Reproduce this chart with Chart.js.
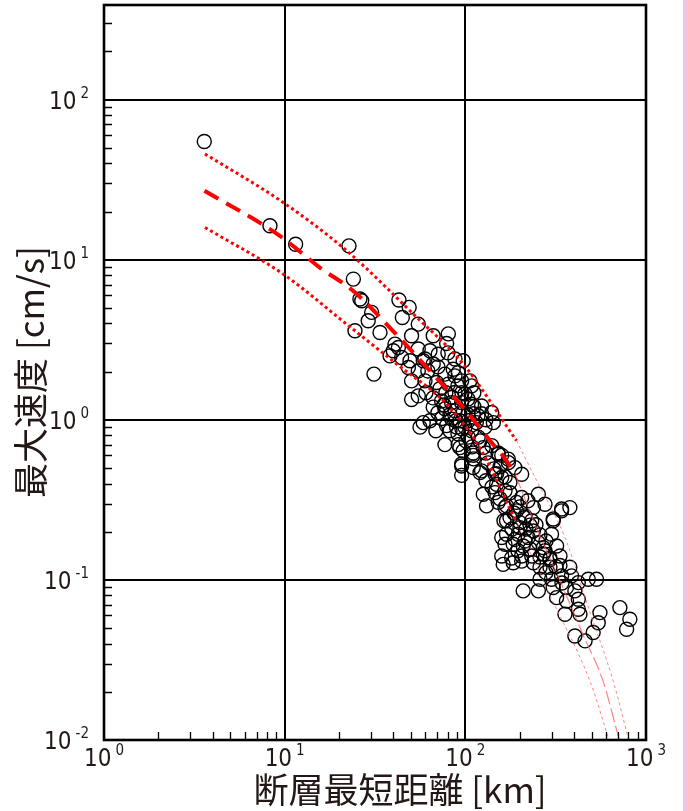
<!DOCTYPE html>
<html>
<head>
<meta charset="utf-8">
<script src="https://cdn.jsdelivr.net/npm/chart.js@4.4.1/dist/chart.umd.min.js"></script>
<style>
  html, body { margin: 0; padding: 0; background: #fff; }
  #wrap { position: relative; width: 688px; height: 811px; }
</style>
</head>
<body>
<div id="wrap"><canvas id="pgvChart"></canvas></div>
<script>
// 観測点: 断層最短距離 [km] と 最大速度 [cm/s]
const distances = [
  3.59, 8.29, 11.5, 22.7, 24.0, 26.1, 26.7, 30.3, 29.0, 33.7, 24.5, 31.2, 42.9, 48.9, 44.8,
  40.8, 39.9, 44.4, 38.3, 42.6, 95.4, 173, 149, 166, 59.8, 48.4, 54.9, 78.8,
  50.4, 66.4, 80.5, 54.9, 63.7, 70.8, 49.4, 58.5, 66.4, 87.6, 97.3, 85.7, 91.3, 77.1, 54.9,
  50.4, 59.8, 69.3, 80.5, 95.4, 108.3, 87.6, 99.5, 50.4, 54.9, 66.4, 73.9, 84.0, 95.4, 108.3,
  123, 66.4, 77.1, 87.6, 97.3, 110.6, 123, 140, 73.9, 84.0, 93.3, 103.8, 115, 78.7, 89.5,
  99.5, 56.1, 58.5, 108.3, 128.5, 142.9, 103.8, 118, 77.1, 91.3, 125.7, 140, 97.3, 110.6,
  152, 159, 95.4, 111, 123, 93.3,
  72.3, 78.0, 84.3, 91.0, 95.7, 103.3, 111.5, 76.1, 82.2, 88.6, 95.7, 103.3, 111.5, 117.5, 130,
  91.0, 100.7, 108.8, 120.5, 130, 70.5, 63.7, 68.7, 82.2, 106, 87.6, 70.5, 60.5, 62.0, 80.1,
  110.6, 95.4, 110.6, 120.5, 152, 172.9, 188, 205, 146, 159, 149, 176.6, 125.7, 146, 165.8,
  192, 152, 169, 131, 205, 253.6, 276, 238, 176.6, 213.7, 228, 200.5, 238, 306.6, 341, 188,
  213.7, 159, 165.8, 253.6, 276, 233, 294, 180.5, 205, 159,
  133.4, 144.1, 155.5, 130, 140.5, 155.5, 176.6, 185.8, 200.5, 222, 163.6, 181.2, 216.4, 246,
  259, 279.5, 228, 195.5, 259, 317, 279.5, 342.7, 404,
  165.8, 192, 213.7, 169, 200.5, 233, 169, 196, 223, 184, 209, 300, 270, 320, 341, 379, 306.6,
  162, 184, 205, 238, 270, 294, 334, 259, 294, 334, 379, 259, 300, 341, 387, 422, 479, 532,
  209, 253.6, 306.6, 363, 320, 363, 422, 356, 431, 556, 717,
  422, 544, 510, 404, 460, 814, 781
];
const velocities = [
  54.8, 16.3, 12.5, 12.2, 7.57, 5.68, 5.54, 4.69, 4.16, 3.51, 3.6, 1.93, 5.6, 5.04, 4.36,
  2.97, 2.7, 2.45, 2.51, 2.83, 0.45, 0.54, 0.46, 0.44, 2.40, 2.12, 3.96, 3.0,
  3.35, 3.35, 3.44, 2.77, 2.70, 2.57, 2.34, 2.34, 2.23, 2.40, 2.34, 2.07, 1.97, 1.93, 2.02,
  1.75, 1.75, 1.71, 1.67, 1.75, 1.63, 1.48, 1.45, 1.34, 1.41, 1.37, 1.31, 1.28, 1.28, 1.25,
  1.22, 1.20, 1.17, 1.14, 1.11, 1.09, 1.09, 1.11, 1.02, 1.01, 0.986, 0.986, 0.96, 0.92, 0.90,
  0.90, 0.90, 0.96, 0.854, 0.90, 0.96, 0.78, 0.78, 0.70, 0.70, 0.67, 0.69, 0.64, 0.62,
  0.62, 0.60, 0.53, 0.57, 0.48, 0.67,
  1.564, 1.477, 1.387, 1.63, 1.477, 1.348, 1.477, 1.237, 1.076, 0.986, 0.879, 1.076, 1.208, 1.06, 1.0,
  0.818, 0.739, 0.678, 0.739, 0.621, 1.107, 0.986, 0.854, 0.854, 1.75, 1.88, 2.14, 1.477, 2.02, 2.62,
  0.60, 0.515, 0.503, 0.468, 0.61, 0.568, 0.503, 0.457, 0.457, 0.436, 0.396, 0.406, 0.343, 0.351, 0.36,
  0.305, 0.305, 0.29, 0.29, 0.327, 0.343, 0.297, 0.283, 0.245, 0.245, 0.220, 0.212, 0.202, 0.240, 0.277, 0.179,
  0.175, 0.184, 0.167, 0.171, 0.152, 0.141, 0.134, 0.137, 0.141, 0.141,
  0.538, 0.494, 0.508, 0.416, 0.381, 0.321, 0.35, 0.262, 0.286, 0.312, 0.234, 0.208, 0.208, 0.221,
  0.191, 0.175, 0.156, 0.152, 0.139, 0.121, 0.111, 0.0957, 0.0854,
  0.283, 0.27, 0.251, 0.234, 0.228, 0.234, 0.193, 0.193, 0.184, 0.167, 0.163, 0.193, 0.159, 0.163, 0.27, 0.283, 0.234,
  0.125, 0.128, 0.131, 0.128, 0.145, 0.137, 0.141, 0.120, 0.120, 0.123, 0.120, 0.101, 0.101, 0.106, 0.106, 0.0962, 0.101, 0.101,
  0.0854, 0.0854, 0.0896, 0.0896, 0.0775, 0.0739, 0.0757, 0.061, 0.061, 0.0625, 0.0671,
  0.0656, 0.054, 0.0469, 0.0446, 0.0416, 0.0568, 0.0492
];

// 距離減衰式 (平均) と ±1σ
const meanDist = [3.6, 9.4, 15.7, 23.9, 39.7, 63, 100, 140, 166, 190];
const meanVel = [27.0, 14.1, 8.9, 6.4, 3.6, 2.05, 1.15, 0.72, 0.57, 0.45];
const meanTailDist = [190, 250, 334, 450, 578, 711];
const meanTailVel = [0.45, 0.206, 0.099, 0.045, 0.0234, 0.01];
const upperDist = [3.62, 9.8, 22.0, 51.5, 97.3, 192];
const upperVel = [45.8, 22.8, 11.4, 4.58, 2.23, 0.74];
const upperTailDist = [192, 253, 356, 489, 658, 804];
const upperTailVel = [0.74, 0.40, 0.184, 0.063, 0.0234, 0.0099];
const lowerDist = [3.62, 9.8, 22.0, 41.7, 78.8, 120, 188];
const lowerVel = [15.9, 8.14, 3.96, 2.23, 1.25, 0.67, 0.24];
const lowerTailDist = [188, 294, 489, 626];
const lowerTailVel = [0.24, 0.08, 0.0234, 0.0099];

const xTicks = [1, 10, 100, 1000];
const xTickExp = ['0', '1', '2', '3'];
const yTicks = [0.01, 0.1, 1, 10, 100];
const yTickExp = ['-2', '-1', '0', '1', '2'];

const xTitle = '断層最短距離 [km]';
const yTitle = '最大速度 [cm/s]';

const pts = (xs, ys) => xs.map((v, i) => ({ x: v, y: ys[i] }));

const RED = '#ff0000';
const PINK = 'rgba(255, 90, 90, 0.75)';
const TEXT = '#231815';
const NUM_FONT = '"Liberation Sans Narrow", "DejaVu Sans Condensed", sans-serif';

function lineSet(xs, ys, color, width, dash) {
  return {
    data: pts(xs, ys),
    showLine: true,
    borderColor: color,
    borderWidth: width,
    borderDash: dash,
    pointRadius: 0,
    fill: false,
    cubicInterpolationMode: 'monotone'
  };
}

// 10 の累乗ラベル
function drawPow(ctx, exp, x, y, align) {
  ctx.font = '24px ' + NUM_FONT;
  const bw = ctx.measureText('10').width;
  ctx.font = '15px ' + NUM_FONT;
  const ew = ctx.measureText(exp).width;
  const gap = 4;
  let left;
  if (align === 'right') left = x - bw - gap - ew;
  else left = x - (bw + gap + ew) / 2;
  ctx.textAlign = 'left';
  ctx.textBaseline = 'alphabetic';
  ctx.font = '24px ' + NUM_FONT;
  ctx.fillText('10', left, y + 9);
  ctx.font = '15px ' + NUM_FONT;
  ctx.fillText(exp, left + bw + gap, y - 2);
}

const decor = {
  id: 'decor',
  afterDraw(chart) {
    const { ctx, chartArea: a, scales: { x, y } } = chart;
    ctx.save();
    // 副目盛 (内向き)
    ctx.strokeStyle = '#000';
    ctx.lineWidth = 1.3;
    ctx.beginPath();
    for (let d = 1; d < 1000; d *= 10) {
      for (let m = 2; m <= 9; m++) {
        const px = Math.round(x.getPixelForValue(m * d)) + 0.5;
        ctx.moveTo(px, a.bottom);
        ctx.lineTo(px, a.bottom - 8);
      }
    }
    for (let d = 0.01; d < 500; d *= 10) {
      for (let m = 2; m <= 9; m++) {
        const v = m * d;
        if (v > y.max) break;
        const py = Math.round(y.getPixelForValue(v)) + 0.5;
        ctx.moveTo(a.left, py);
        ctx.lineTo(a.left + 8, py);
      }
    }
    ctx.stroke();
    // 枠
    ctx.lineWidth = 2.6;
    ctx.strokeRect(a.left, a.top, a.right - a.left, a.bottom - a.top);

    // 目盛ラベル
    ctx.fillStyle = TEXT;
    xTicks.forEach((v, i) => drawPow(ctx, xTickExp[i], x.getPixelForValue(v), a.bottom + 17, 'center'));
    yTicks.forEach((v, i) => drawPow(ctx, yTickExp[i], a.left - 15, y.getPixelForValue(v), 'right'));

    // 軸タイトル
    ctx.font = '35px "Noto Sans CJK JP", sans-serif';
    ctx.textAlign = 'center';
    ctx.textBaseline = 'middle';
    ctx.fillText(xTitle, 400, 790);
    ctx.translate(31, 372);
    ctx.rotate(-Math.PI / 2);
    ctx.fillText(yTitle, 0, 0);
    ctx.restore();

    // 右端の色帯
    ctx.save();
    ctx.fillStyle = '#f2c3e0';
    ctx.fillRect(683, 0, 5, chart.height);
    ctx.restore();
  }
};

const ctx = document.getElementById('pgvChart').getContext('2d');
new Chart(ctx, {
  type: 'scatter',
  data: {
    datasets: [
      lineSet(meanDist, meanVel, RED, 4, [16, 9]),
      lineSet(upperDist, upperVel, RED, 3, [3, 3]),
      lineSet(lowerDist, lowerVel, RED, 3, [3, 3]),
      lineSet(meanTailDist, meanTailVel, PINK, 1.2, [14, 4]),
      lineSet(upperTailDist, upperTailVel, PINK, 1, [3, 3]),
      lineSet(lowerTailDist, lowerTailVel, PINK, 1, [3, 3]),
      {
        data: pts(distances, velocities),
        pointRadius: 7,
        pointHoverRadius: 7,
        pointBorderWidth: 1.4,
        pointBorderColor: '#000',
        pointBackgroundColor: 'rgba(0,0,0,0)',
        showLine: false
      }
    ]
  },
  options: {
    responsive: true,
    maintainAspectRatio: false,
    animation: false,
    events: [],
    layout: { autoPadding: false, padding: { left: 104, right: 42, top: 5, bottom: 71 } },
    plugins: { legend: { display: false }, tooltip: { enabled: false } },
    scales: {
      x: {
        type: 'logarithmic',
        min: 1,
        max: 1000,
        afterBuildTicks: s => { s.ticks = xTicks.map(v => ({ value: v })); },
        ticks: { display: false },
        grid: { color: '#000', lineWidth: 2, drawTicks: false },
        border: { display: false }
      },
      y: {
        type: 'logarithmic',
        min: 0.01,
        max: 390,
        afterBuildTicks: s => { s.ticks = yTicks.map(v => ({ value: v })); },
        ticks: { display: false },
        grid: { color: '#000', lineWidth: 2, drawTicks: false },
        border: { display: false }
      }
    }
  },
  plugins: [decor]
});
</script>
</body>
</html>
